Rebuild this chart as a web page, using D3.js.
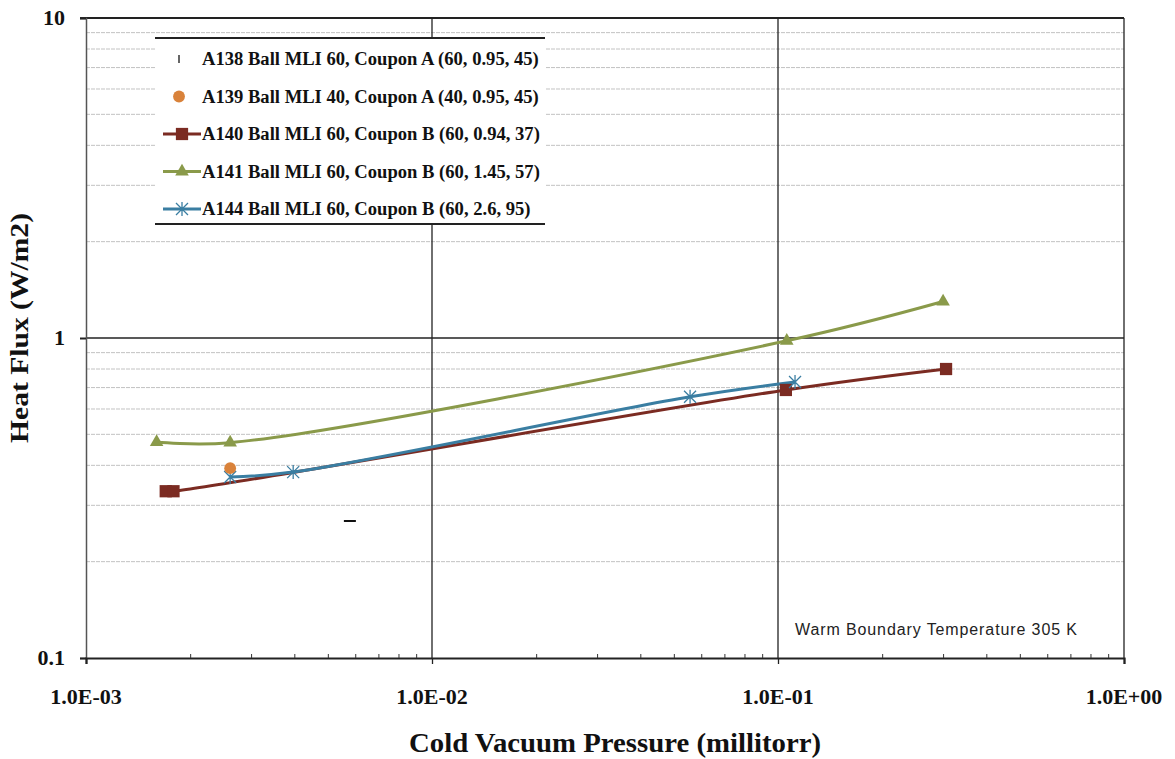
<!DOCTYPE html>
<html>
<head>
<meta charset="utf-8">
<script src="https://cdn.jsdelivr.net/npm/d3@7"></script>
<style>
  body { margin: 0; background: #fff; }
  svg { display: block; }
</style>
</head>
<body>
<div id="chart"></div>
<script>
// series: [pressure (millitorr), heat flux (W/m2)]
const a138 = [[0.00579, 0.268]];
const a139 = [[0.00261, 0.392]];
const a140 = [[0.0017, 0.332], [0.00179, 0.332], [0.1054, 0.688], [0.306, 0.80]];
const a141 = [[0.0016, 0.473], [0.00261, 0.471], [0.106, 0.98], [0.300, 1.30]];
const a144 = [[0.00261, 0.368], [0.00397, 0.381], [0.0557, 0.655], [0.112, 0.729]];

const legendNames = [
  'A138 Ball MLI 60, Coupon A (60, 0.95, 45)',
  'A139 Ball MLI 40, Coupon A (40, 0.95, 45)',
  'A140 Ball MLI 60, Coupon B (60, 0.94, 37)',
  'A141 Ball MLI 60, Coupon B (60, 1.45, 57)',
  'A144 Ball MLI 60, Coupon B (60, 2.6, 95)'
];

const xTicks = [1e-3, 1e-2, 1e-1, 1];
const xTickLabels = ['1.0E-03', '1.0E-02', '1.0E-01', '1.0E+00'];
const yTicks = [0.1, 1, 10];
const yTickLabels = ['0.1', '1', '10'];

const width = 1175;
const height = 759;
const margin = { top: 18, right: 51, bottom: 101, left: 86 };
const serif = '"Liberation Serif", "Times New Roman", serif';

const svg = d3.select('#chart').append('svg')
  .attr('width', width)
  .attr('height', height);

const x = d3.scaleLog().domain([1e-3, 1]).range([margin.left, width - margin.right]);
const y = d3.scaleLog().domain([0.1, 10]).range([height - margin.bottom, margin.top]);

// minor values 2..9 in each decade
const minor = (lo, hi) => {
  const out = [];
  for (let e = lo; e < hi; e++) {
    for (let k = 2; k <= 9; k++) out.push(k * Math.pow(10, e));
  }
  return out;
};
const xMinor = minor(-3, 0);
const yMinor = minor(-1, 1);

// grid
const grid = svg.append('g');
grid.selectAll('.ygm').data(yMinor).enter().append('line')
  .attr('x1', x(1e-3)).attr('x2', x(1))
  .attr('y1', d => y(d)).attr('y2', d => y(d))
  .attr('stroke', '#c2c2c2').attr('stroke-width', 1)
  .attr('stroke-dasharray', '4,1');
grid.selectAll('.ygM').data([1]).enter().append('line')
  .attr('x1', x(1e-3)).attr('x2', x(1))
  .attr('y1', d => y(d)).attr('y2', d => y(d))
  .attr('stroke', '#222').attr('stroke-width', 1.3);
grid.selectAll('.xgM').data([1e-2, 1e-1, 1]).enter().append('line')
  .attr('x1', d => x(d)).attr('x2', d => x(d))
  .attr('y1', y(10)).attr('y2', y(0.1))
  .attr('stroke', '#222').attr('stroke-width', 1.3);
// top border
grid.append('line')
  .attr('x1', x(1e-3) - 6).attr('x2', x(1))
  .attr('y1', y(10)).attr('y2', y(10))
  .attr('stroke', '#222').attr('stroke-width', 2);

// axes
const yAxis = svg.append('g')
  .attr('transform', `translate(${margin.left},0)`)
  .call(d3.axisLeft(y).tickValues(yTicks).tickSize(6).tickFormat(''));
yAxis.select('.domain').attr('stroke', '#555').attr('stroke-width', 1.5);
yAxis.selectAll('.tick line').attr('stroke', '#222').attr('stroke-width', 2);

const xAxis = svg.append('g')
  .attr('transform', `translate(0,${height - margin.bottom})`)
  .call(d3.axisBottom(x).tickValues(xTicks).tickSize(6).tickFormat(''));
xAxis.select('.domain').attr('stroke', '#222').attr('stroke-width', 2.2);
xAxis.selectAll('.tick line').attr('stroke', '#222').attr('stroke-width', 1.3);

const xAxisMinor = svg.append('g')
  .attr('transform', `translate(0,${height - margin.bottom})`)
  .call(d3.axisTop(x).tickValues(xMinor).tickSize(4).tickFormat(''));
xAxisMinor.select('.domain').remove();
xAxisMinor.selectAll('.tick line').attr('stroke', '#333').attr('stroke-width', 1);

// tick labels
svg.append('g').selectAll('text').data(xTicks).enter().append('text')
  .attr('x', d => x(d))
  .attr('y', height - margin.bottom + 46)
  .attr('text-anchor', 'middle')
  .style('font', `bold 22px ${serif}`)
  .attr('fill', '#111')
  .text((d, i) => xTickLabels[i]);

svg.append('g').selectAll('text').data(yTicks).enter().append('text')
  .attr('x', margin.left - 21)
  .attr('y', d => y(d) + 7)
  .attr('text-anchor', 'end')
  .style('font', `bold 22px ${serif}`)
  .attr('fill', '#111')
  .text((d, i) => yTickLabels[i]);

// axis titles
svg.append('text')
  .attr('x', 615).attr('y', 752)
  .attr('text-anchor', 'middle')
  .style('font', `bold 27px ${serif}`)
  .attr('fill', '#111')
  .attr('textLength', 412)
  .attr('lengthAdjust', 'spacingAndGlyphs')
  .text('Cold Vacuum Pressure (millitorr)');

svg.append('text')
  .attr('transform', 'translate(28,328) rotate(-90)')
  .attr('text-anchor', 'middle')
  .style('font', `bold 26px ${serif}`)
  .attr('fill', '#111')
  .attr('textLength', 230)
  .attr('lengthAdjust', 'spacingAndGlyphs')
  .text('Heat Flux (W/m2)');

// annotation
svg.append('text')
  .attr('x', 795).attr('y', 635)
  .style('font', '16px "Liberation Sans", Arial, sans-serif')
  .attr('fill', '#222')
  .attr('textLength', 282)
  .text('Warm Boundary Temperature 305 K');

// markers
const sq = d3.symbol().type(d3.symbolSquare).size(150);
const tri = d3.symbol().type(d3.symbolTriangle).size(80);
const circ = d3.symbol().type(d3.symbolCircle).size(110);
const starPath = 'M-6,-6L6,6M-6,6L6,-6M0,-7L0,7';

const line = d3.line()
  .x(d => x(d[0]))
  .y(d => y(d[1]))
  .curve(d3.curveCatmullRom.alpha(0.5));

const series = [
  { data: a140, color: '#7b2b22', marker: 'square' },
  { data: a141, color: '#8a9a4a', marker: 'triangle' },
  { data: a144, color: '#3a7ea2', marker: 'star' }
];

const plot = svg.append('g');

function drawMarker(g, type, color) {
  if (type === 'square') g.append('path').attr('d', sq).attr('fill', color);
  else if (type === 'triangle') g.append('path').attr('d', tri).attr('fill', color);
  else if (type === 'circle') g.append('path').attr('d', circ).attr('fill', color);
  else if (type === 'star') g.append('path').attr('d', starPath).attr('stroke', color).attr('stroke-width', 1.3).attr('fill', 'none');
  else if (type === 'dash') g.append('line').attr('x1', -6).attr('x2', 6).attr('stroke', '#111').attr('stroke-width', 2);
  else if (type === 'vbar') g.append('line').attr('y1', -4).attr('y2', 4).attr('stroke', '#333').attr('stroke-width', 1.5);
}

series.forEach(s => {
  plot.append('path')
    .datum(s.data)
    .attr('d', line)
    .attr('fill', 'none')
    .attr('stroke', s.color)
    .attr('stroke-width', 3);
});
series.forEach(s => {
  s.data.forEach(d => {
    const g = plot.append('g').attr('transform', `translate(${x(d[0])},${y(d[1])})`);
    drawMarker(g, s.marker, s.color);
  });
});
a139.forEach(d => {
  const g = plot.append('g').attr('transform', `translate(${x(d[0])},${y(d[1])})`);
  drawMarker(g, 'circle', '#d9823a');
});
a138.forEach(d => {
  const g = plot.append('g').attr('transform', `translate(${x(d[0])},${y(d[1])})`);
  drawMarker(g, 'dash', '#111');
});

// legend
const legend = svg.append('g');
legend.append('rect')
  .attr('x', 155).attr('y', 38).attr('width', 390).attr('height', 186)
  .attr('fill', '#fff');
legend.append('line').attr('x1', 155).attr('x2', 545).attr('y1', 38).attr('y2', 38)
  .attr('stroke', '#222').attr('stroke-width', 2);
legend.append('line').attr('x1', 155).attr('x2', 545).attr('y1', 224).attr('y2', 224)
  .attr('stroke', '#222').attr('stroke-width', 2);

const legendItems = [
  { marker: 'vbar', color: '#333', line: false },
  { marker: 'circle', color: '#d9823a', line: false },
  { marker: 'square', color: '#7b2b22', line: true },
  { marker: 'triangle', color: '#8a9a4a', line: true },
  { marker: 'star', color: '#3a7ea2', line: true }
];

legendItems.forEach((item, i) => {
  const cy = 59 + i * 37.5;
  const g = legend.append('g');
  if (item.line) {
    g.append('line').attr('x1', 163).attr('x2', 201).attr('y1', cy).attr('y2', cy)
      .attr('stroke', item.color).attr('stroke-width', 3);
  }
  const m = g.append('g').attr('transform', `translate(${item.line ? 182 : 179},${cy})`);
  drawMarker(m, item.marker, item.color);
  g.append('text')
    .attr('x', 202).attr('y', cy + 6)
    .style('font', `bold 18.6px ${serif}`)
    .attr('fill', '#111')
    .text(legendNames[i]);
});
</script>
</body>
</html>
